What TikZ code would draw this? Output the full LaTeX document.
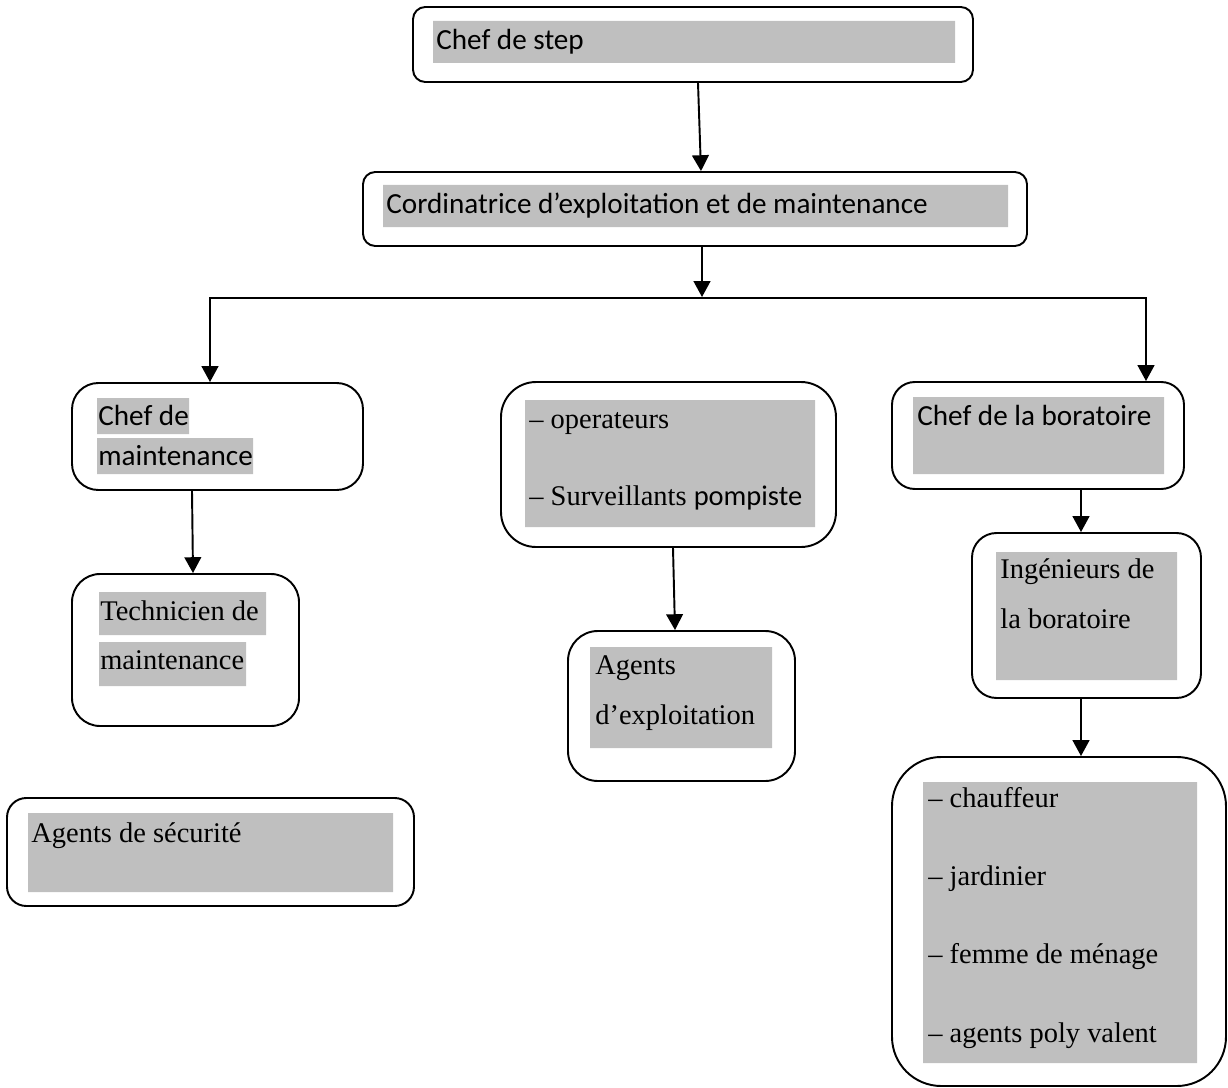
\documentclass[tikz,border=0pt]{standalone}
\usepackage{fontspec}
\usepackage{tikz}
\usetikzlibrary{positioning,fit,calc,arrows.meta}
\newfontfamily\orgsans{Carlito}
\newfontfamily\orgserif{Liberation Serif}
\definecolor{hlgray}{RGB}{191,191,191}

\begin{document}
\begin{tikzpicture}[
  x=0.02cm, y=-0.02cm,
  orgbox/.style={draw,line width=1.1pt,rounded corners=#1,inner sep=0pt},
  hilite/.style={fill=hlgray},
  sanstxt/.style={anchor=base west,inner sep=0pt,align=left,font=\orgsans\fontsize{16.6}{#1}\selectfont},
  sanstxt/.default=20,
  seriftxt/.style={anchor=base west,inner sep=0pt,align=left,font=\orgserif\fontsize{16.2}{#1}\selectfont},
  seriftxt/.default=20,
  conn/.style={-{Triangle[width=9.5pt,length=9pt]},line width=1.1pt},
  fork/.style={{Triangle[width=9.5pt,length=9pt]}-{Triangle[width=9.5pt,length=9pt]},line width=1.1pt}
]
\useasboundingbox (0,0) rectangle (1228,1088);

% grey text highlights
\fill[hilite] (433,21) rectangle (955,63)
  (383,185) rectangle (1008,227)
  (97,398) rectangle (189,434) (97,438) rectangle (253,474)
  (99,592) rectangle (266,635) (99,642) rectangle (246,686)
  (525,400) rectangle (815,527)
  (590,647) rectangle (772,748)
  (913,397) rectangle (1164,474)
  (996,552) rectangle (1177,680)
  (923,782) rectangle (1197,1063)
  (28,813) rectangle (393,892);

% boxes
\node[orgbox=7pt,fit={(413,7) (973,82)}] (step) {};
\node[orgbox=7pt,fit={(363,172) (1027,246)}] (coord) {};
\node[orgbox=15pt,fit={(72,383) (363,490)}] (chefm) {};
\node[orgbox=16pt,fit={(72,574) (299,726)}] (tech) {};
\node[orgbox=20pt,fit={(501,382) (836,547)}] (ops) {};
\node[orgbox=17pt,fit={(568,631) (795,781)}] (agx) {};
\node[orgbox=13pt,fit={(892,382) (1184,489)}] (chefl) {};
\node[orgbox=14pt,fit={(972,533) (1201,698)}] (ing) {};
\node[orgbox=28pt,fit={(892,757) (1226,1086)}] (staff) {};
\node[orgbox=11pt,fit={(7,798) (414,906)}] (secu) {};

% texts (multi-line nodes sit on their last baseline)
\node[sanstxt] (steptxt) at (436,50) {Chef de step};
\node[sanstxt] (coordtxt) at (386,214) {Cordinatrice d’exploitation et de maintenance};
\node[sanstxt=22.7] (chefmtxt) at (98,465) {Chef de\\maintenance};
\node[seriftxt=27.8] (techtxt) at (100,669) {Technicien de\\maintenance};
\node[seriftxt=43.7] (opstxt) at (529,505) {– operateurs\\– Surveillants {\orgsans pompiste}};
\node[seriftxt=28.3] (agxtxt) at (595,724) {Agents\\d’exploitation};
\node[sanstxt] (chefltxt) at (917,425) {Chef de la boratoire};
\node[seriftxt=28.3] (ingtxt) at (1000,628) {Ingénieurs de\\la boratoire};
\node[seriftxt=44.4] (stafftxt) at (928,1042) {– chauffeur\\– jardinier\\– femme de ménage\\– agents poly valent};
\node[seriftxt] (secutxt) at (31,842) {Agents de sécurité};

% connectors
\coordinate (split) at (702,297);
\coordinate (forkl) at (210,298);
\coordinate (forkr) at (1146,298);
\path ($(step.south)+(5,0)$) edge[conn] ($(coord.north)+(6,0)$)
($(coord.south)+(7,0)$) edge[conn] (split)
($(chefm.south)+(-25.5,0)$) edge[conn] ($(tech.north)+(7.5,0)$)
($(ops.south)+(4.5,0)$) edge[conn] ($(agx.north)+(-6.5,0)$)
($(chefl.south)+(43,0)$) edge[conn] ($(ing.north)+(-5.5,0)$)
($(ing.south)+(-5.5,0)$) edge[conn] ($(staff.north)+(22,0)$);
\draw[fork] (chefm.north -| forkl) -- (forkl) -- (forkr) -- (chefl.north -| forkr);
\end{tikzpicture}
\end{document}
